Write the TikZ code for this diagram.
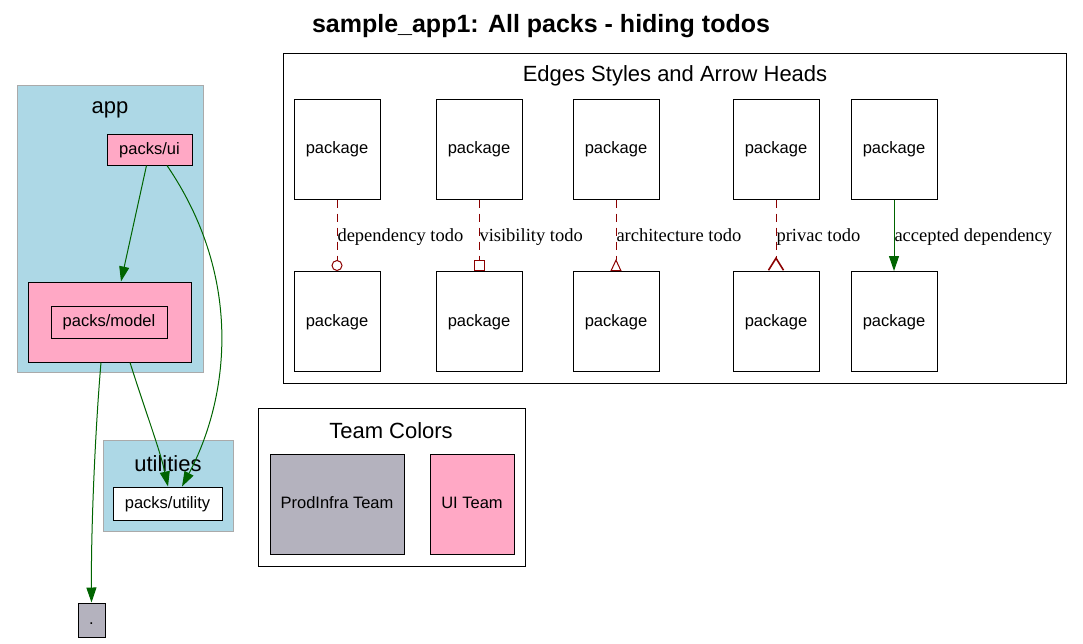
\documentclass[tikz,border=0pt]{standalone}
\usepackage{fontspec}
\setmainfont{Liberation Sans}
\newfontfamily\lblfont{Liberation Serif}
\usetikzlibrary{arrows.meta}

\definecolor{clusterblue}{HTML}{ADD8E6}
\definecolor{clusterline}{HTML}{AAAAAA}
\definecolor{uipink}{HTML}{FFA8C5}
\definecolor{infragray}{HTML}{B4B2BE}
\definecolor{okgreen}{HTML}{006400}
\definecolor{todored}{HTML}{8B0000}

\begin{document}
\begin{tikzpicture}[x=1pt,y=-1pt,
		pkg/.style		= {draw=black, line width=1pt, inner sep=0pt,
						   text height=0.9em, text depth=0pt,
						   font=\fontsize{16.5}{19}\selectfont},
		cluster/.style	= {draw=clusterline, fill=clusterblue, line width=1pt},
		frame/.style	= {draw=black, line width=1pt},
		heading/.style	= {font=\fontsize{22}{25}\selectfont},
		ok/.style		= {draw=okgreen, line width=1pt, -{Triangle[length=15pt,width=10pt]}},
		todo/.style		= {draw=todored, line width=1pt, dashed, dash pattern=on 8pt off 6pt},
		lbl/.style		= {anchor=base west, inner sep=0pt, yshift=-6pt, text=black,
						   font=\lblfont\fontsize{18.5}{21}\selectfont}]
	%\draw[help lines] (0,0) grid (1083,643);
	\useasboundingbox (0,0) rectangle (1083,643);

	\node[font=\bfseries\fontsize{25}{28}\selectfont] (title) at (541,26) {sample\_app1: All packs - hiding todos};

	% app and utilities
	\draw[cluster] (17,85) rectangle (203,372);
	\node[heading] (applbl) at (110,110) {app};
	\draw[cluster] (103,440) rectangle (233,531);
	\node[heading] (utillbl) at (168,464) {utilities};

	\node[pkg, fill=uipink, minimum width=85pt, minimum height=31pt] (ui) at (149.5,149.5) {packs/ui};
	\node[pkg, fill=uipink, minimum width=163pt, minimum height=80pt] (modelbox) at (109.5,322) {};
	\node[pkg, fill=uipink, minimum width=116pt, minimum height=32pt] (model) at (109,322) {packs/model};
	\node[pkg, fill=white, minimum width=109pt, minimum height=33pt] (util) at (167.5,503.5) {packs/utility};
	\node[pkg, fill=infragray, minimum width=27pt, minimum height=34pt] (root) at (91.5,620) {.};

	\draw[ok] ([xshift=-3pt]ui.south) -- ([xshift=11.5pt]modelbox.north);
	\draw[ok] ([xshift=17.5pt]ui.south) .. controls (245,280) and (228,400) .. ([xshift=14.5pt]util.north);
	\draw[ok] ([xshift=20.5pt]modelbox.south) .. controls (145,410) and (160,450) .. ([xshift=0.5pt]util.north);
	\draw[ok] ([xshift=-8.5pt]modelbox.south) .. controls (96,420) and (91,520) .. (root.north);

	% edge styles
	\draw[frame] (283,53) rectangle (1066,383);
	\node[heading] (edgelbl) at (675,76) {Edges Styles and Arrow Heads};

	\foreach \n/\x in {1/337, 2/479, 3/616, 4/776, 5/894} {
		\node[pkg, minimum width=86pt, minimum height=100pt] (top\n) at (\x,149) {package};
		\node[pkg, minimum width=86pt, minimum height=100pt] (bot\n) at (\x,321.5) {package};
	}

	\draw[todo, -{Circle[open, length=11pt, width=11pt]}] (top1) -- node[lbl] {dependency todo} (bot1);
	\draw[todo, -{Square[open, length=11pt, width=11pt]}] (top2) -- node[lbl] {visibility todo} (bot2);
	\draw[todo, -{Triangle[open, reversed, length=12pt, width=11pt]}] (top3) -- node[lbl] {architecture todo} (bot3);
	\draw[todo, -{Straight Barb[reversed, length=12pt, width=15pt, line width=1.6pt]}] (top4) -- node[lbl] {privac todo} (bot4);
	\draw[ok] (top5) -- node[lbl] {accepted dependency} (bot5);

	% team colors
	\draw[frame] (258,408) rectangle (525,566);
	\node[heading] (teamlbl) at (391,431) {Team Colors};
	\node[pkg, fill=infragray, minimum width=134pt, minimum height=100pt] (infra) at (337,504) {ProdInfra Team};
	\node[pkg, fill=uipink, minimum width=84pt, minimum height=100pt] (uiteam) at (472,504) {UI Team};
\end{tikzpicture}
\end{document}
